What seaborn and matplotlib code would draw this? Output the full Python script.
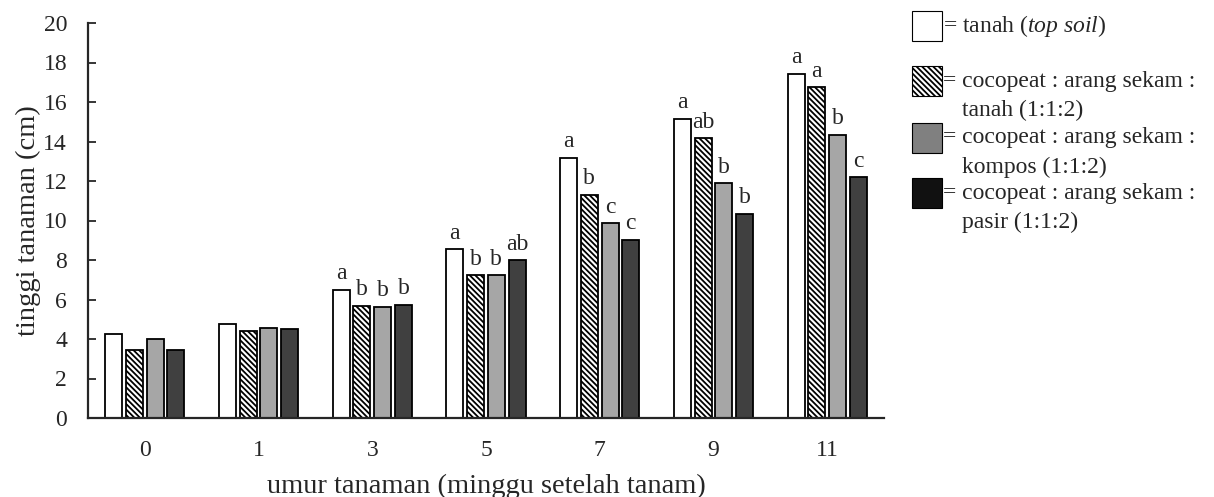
import matplotlib
matplotlib.use("Agg")
import matplotlib.pyplot as plt
from matplotlib.patches import Rectangle
import pandas as pd
import seaborn as sns

# umur tanaman (minggu setelah tanam)
minggu = ["0", "1", "3", "5", "7", "9", "11"]

# tinggi tanaman (cm) per perlakuan
tanah = [4.24, 4.78, 6.50, 8.54, 13.18, 15.14, 17.42]
tanah_112 = [3.44, 4.39, 5.69, 7.22, 11.29, 14.16, 16.74]
kompos_112 = [3.98, 4.57, 5.62, 7.22, 9.86, 11.88, 14.33]
pasir_112 = [3.44, 4.52, 5.72, 7.98, 9.01, 10.33, 12.19]

# notasi uji lanjut
huruf_tanah = ["", "", "a", "a", "a", "a", "a"]
huruf_tanah_112 = ["", "", "b", "b", "b", "ab", "a"]
huruf_kompos_112 = ["", "", "b", "b", "c", "b", "b"]
huruf_pasir_112 = ["", "", "b", "ab", "c", "b", "c"]

perlakuan = ["tanah", "tanah_112", "kompos_112", "pasir_112"]
bar_colors = ["#ffffff", "#ffffff", "#a6a6a6", "#404040"]
legend_colors = ["#ffffff", "#ffffff", "#808080", "#111111"]

sns.set_style("ticks")
plt.rcParams["font.family"] = ["Liberation Serif", "DejaVu Serif"]
plt.rcParams["mathtext.fontset"] = "custom"
plt.rcParams["mathtext.rm"] = "Liberation Serif"
plt.rcParams["mathtext.it"] = "Liberation Serif:italic"
plt.rcParams["hatch.linewidth"] = 1.3

df = pd.DataFrame({
    "minggu": minggu * 4,
    "tinggi": tanah + tanah_112 + kompos_112 + pasir_112,
    "perlakuan": [p for p in perlakuan for _ in minggu],
})

W, H = 1214, 497
fig = plt.figure(figsize=(W / 100, H / 100), dpi=100)
ax = fig.add_axes([88 / W, 1 - 418 / H, (884 - 88) / W, (418 - 23) / H])

sns.barplot(data=df, x="minggu", y="tinggi", hue="perlakuan", order=minggu,
            hue_order=perlakuan, palette=bar_colors, width=0.73, gap=0.18,
            edgecolor="black", linewidth=1.3, saturation=1, legend=False, ax=ax)

hatch = "\\" * 6
for bar in ax.containers[1]:
    bar.set_hatch(hatch)

fs = 17
for cont, lab in zip(ax.containers, [huruf_tanah, huruf_tanah_112, huruf_kompos_112, huruf_pasir_112]):
    ax.bar_label(cont, labels=lab, padding=4, fontsize=fs)

ax.set_ylim(0, 20)
ax.set_yticks(range(0, 21, 2))
ax.set_xlim(-0.5, 6.5)
ax.tick_params(axis="y", labelsize=fs, direction="in", length=6, width=1.3, pad=15)
ax.tick_params(axis="x", labelsize=fs, length=0, pad=16)
ax.set_xlabel("umur tanaman (minggu setelah tanam)", fontsize=20.5, labelpad=9)
ax.set_ylabel("tinggi tanaman (cm)", fontsize=20.5, labelpad=2)
for s in ["top", "right"]:
    ax.spines[s].set_visible(False)
for s in ["left", "bottom"]:
    ax.spines[s].set_linewidth(1.6)

# legenda manual
legend_rows = [
    ("= tanah ($\\mathit{top\\ soil}$)", None, 26),
    ("= cocopeat : arang sekam :", "tanah (1:1:2)", 81),
    ("= cocopeat : arang sekam :", "kompos (1:1:2)", 138),
    ("= cocopeat : arang sekam :", "pasir (1:1:2)", 193),
]
for i, (line1, line2, yc) in enumerate(legend_rows):
    rect = Rectangle((912 / W, 1 - (yc + 15) / H), 30 / W, 30 / H,
                     transform=fig.transFigure, facecolor=legend_colors[i],
                     edgecolor="black", linewidth=0.8,
                     hatch=hatch if i == 1 else None)
    fig.patches.append(rect)
    fig.text(943 / W, 1 - yc / H, line1, fontsize=fs, va="center", ha="left")
    if line2:
        fig.text(962 / W, 1 - (yc + 29) / H, line2, fontsize=fs, va="center", ha="left")

fig.savefig("out.png", dpi=100)
